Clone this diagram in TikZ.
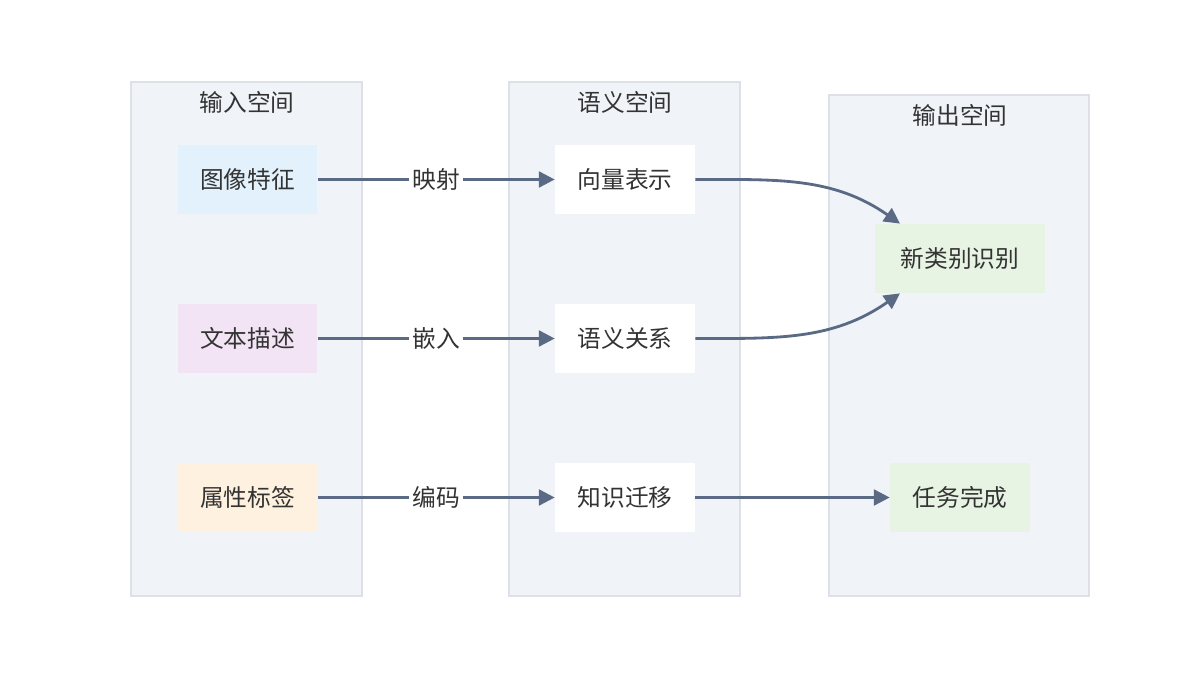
\documentclass[tikz,border=0pt]{standalone}
\usepackage{fontspec}
\setmainfont{Noto Sans CJK SC}
\usetikzlibrary{arrows.meta}
\definecolor{panelbg}{HTML}{F0F3F8}
\definecolor{paneldraw}{HTML}{DDE1E7}
\definecolor{edgecol}{HTML}{5B6A84}
\definecolor{txtcol}{HTML}{333333}
\definecolor{blueb}{HTML}{E3F1FC}
\definecolor{pinkb}{HTML}{F3E4F5}
\definecolor{orangeb}{HTML}{FFF1DF}
\definecolor{greenb}{HTML}{E7F3E3}
\begin{document}
\begin{tikzpicture}
[x=0.02cm,y=-0.02cm,
panel/.style={rectangle,draw=paneldraw,fill=panelbg,line width=0.6pt},
ptitle/.style={text=txtcol,font=\fontsize{13.5}{16}\selectfont},
box/.style={rectangle,draw=none,minimum width=2.8cm,minimum height=1.38cm,text=txtcol,font=\fontsize{13.5}{16}\selectfont},
flow/.style={draw=edgecol,line width=1.6pt,-{Triangle[length=9pt,width=9pt]}},
elab/.style={fill=white,text=txtcol,inner sep=2pt,font=\fontsize{13.5}{16}\selectfont}]

\useasboundingbox (0,0) rectangle (1200,675);

% panels
\draw [panel] (131,82) rectangle (362,596);
\draw [panel] (509,82) rectangle (740,596);
\draw [panel] (829,95) rectangle (1089,596);
\node [ptitle] (tin)  at (247,102) {输入空间};
\node [ptitle] (tsem) at (625,102) {语义空间};
\node [ptitle] (tout) at (960,115) {输出空间};

% input nodes
\node [box,fill=blueb]   (img)  at (247.5,179.5) {图像特征};
\node [box,fill=pinkb]   (txt)  at (247.5,338.5) {文本描述};
\node [box,fill=orangeb] (attr) at (247.5,497.5) {属性标签};

% semantic nodes
\node [box,fill=white] (vec) at (625,179.5) {向量表示};
\node [box,fill=white] (rel) at (625,338.5) {语义关系};
\node [box,fill=white] (kt)  at (625,497.5) {知识迁移};

% output nodes
\node [box,fill=greenb,minimum width=3.4cm] (newc) at (960,258.5) {新类别识别};
\node [box,fill=greenb] (done) at (960,497.5) {任务完成};

% connectors
\draw [flow] (img.east) -- node [elab] {映射} (vec.west);
\draw [flow] (txt.east) -- node [elab] {嵌入} (rel.west);
\draw [flow] (attr.east) -- node [elab] {编码} (kt.west);
\draw [flow] (vec.east) to [out=0,in=145] ([xshift=-1.2cm]newc.north);
\draw [flow] (rel.east) to [out=0,in=-145] ([xshift=-1.2cm]newc.south);
\draw [flow] (kt.east) -- (done.west);
\end{tikzpicture}
\end{document}
